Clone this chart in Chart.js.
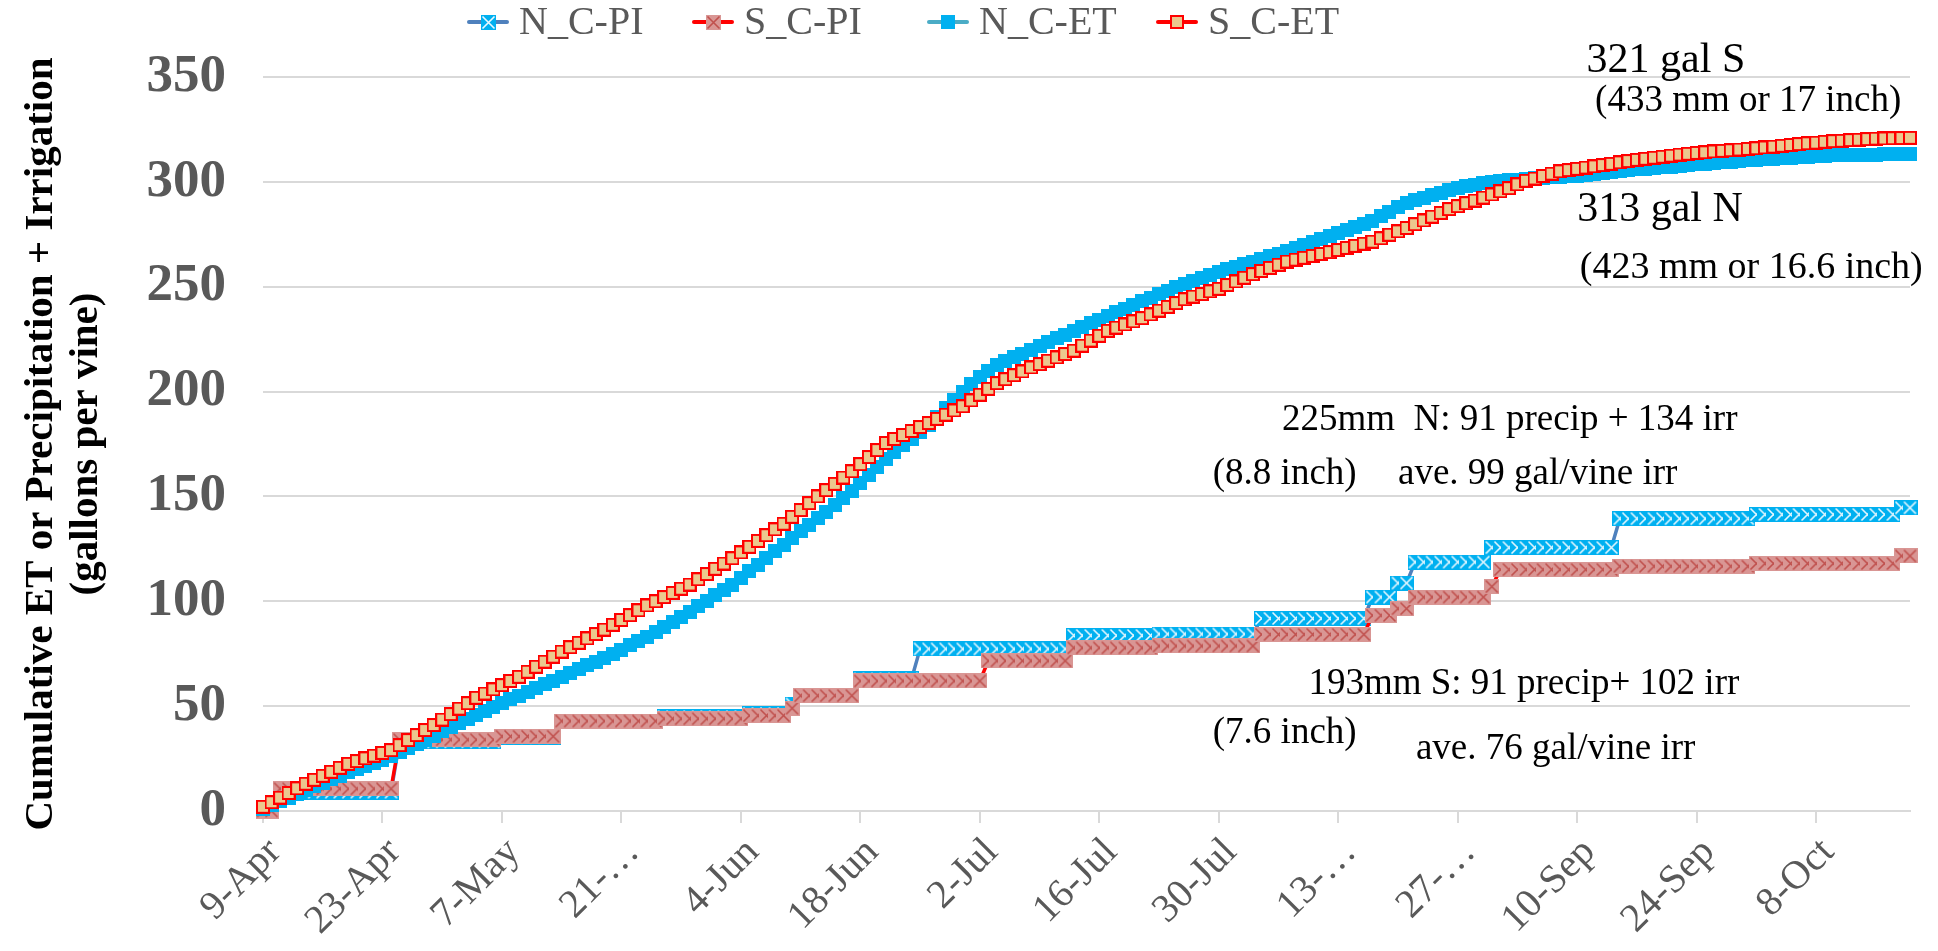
<!DOCTYPE html>
<html>
<head>
<meta charset="utf-8">
<script src="https://cdn.jsdelivr.net/npm/chart.js@4.4.0/dist/chart.umd.min.js"></script>
<style>
  html, body { margin: 0; padding: 0; background: #ffffff; overflow: hidden; }
  #wrap { width: 1938px; height: 951px; }
</style>
</head>
<body>
<div id="wrap"><canvas id="chart" width="1938" height="951"></canvas></div>
<script>
// Series names in legend order
const seriesNames = ['N_C-PI', 'S_C-PI', 'N_C-ET', 'S_C-ET'];

// Daily records start on 9 April; one value per day
const firstDay = { month: 3, day: 9 };
const monthNames = ['Jan','Feb','Mar','Apr','May','Jun','Jul','Aug','Sep','Oct','Nov','Dec'];

// Labels shown on the date axis (every 14th day)
const tickLabels = ['9-Apr', '23-Apr', '7-May', '21-…', '4-Jun', '18-Jun', '2-Jul',
                    '16-Jul', '30-Jul', '13-…', '27-…', '10-Sep', '24-Sep', '8-Oct'];
const tickEvery = 14;

// Cumulative precipitation + irrigation, north block (gal/vine)
const nPI = [
  0, 0, 9, 9, 9, 9, 9, 9, 9, 9, 9, 9, 9, 9, 9, 9,
  33, 33, 33, 33, 33, 33, 33, 33, 33, 33, 33, 33,
  35, 35, 35, 35, 35, 35, 35,
  42.5, 42.5, 42.5, 42.5, 42.5, 42.5, 42.5, 42.5, 42.5, 42.5, 42.5, 42.5,
  45, 45, 45, 45, 45, 45, 45, 45, 45, 45,
  46.5, 46.5, 46.5, 46.5, 46.5,
  51,
  55, 55, 55, 55, 55, 55, 55,
  63, 63, 63, 63, 63, 63, 63,
  77.3, 77.3, 77.3, 77.3, 77.3, 77.3, 77.3, 77.3, 77.3, 77.3, 77.3, 77.3, 77.3, 77.3, 77.3, 77.3, 77.3, 77.3,
  83.7, 83.7, 83.7, 83.7, 83.7, 83.7, 83.7, 83.7, 83.7, 83.7,
  84.4, 84.4, 84.4, 84.4, 84.4, 84.4, 84.4, 84.4, 84.4, 84.4, 84.4, 84.4,
  91.8, 91.8, 91.8, 91.8, 91.8, 91.8, 91.8, 91.8, 91.8, 91.8, 91.8, 91.8, 91.8,
  102, 102, 102,
  108.7, 108.7,
  118.7, 118.7, 118.7, 118.7, 118.7, 118.7, 118.7, 118.7, 118.7,
  125.6, 125.6, 125.6, 125.6, 125.6, 125.6, 125.6, 125.6, 125.6, 125.6, 125.6, 125.6, 125.6, 125.6, 125.6,
  139.4, 139.4, 139.4, 139.4, 139.4, 139.4, 139.4, 139.4, 139.4, 139.4, 139.4, 139.4, 139.4, 139.4, 139.4, 139.4,
  141.4, 141.4, 141.4, 141.4, 141.4, 141.4, 141.4, 141.4, 141.4, 141.4, 141.4, 141.4, 141.4, 141.4, 141.4, 141.4, 141.4,
  144.6, 144.6
];

// Cumulative precipitation + irrigation, south block (gal/vine)
const sPI = [
  0, 0, 10.6, 10.6, 10.6, 10.6, 10.6, 10.6, 10.6, 10.6, 10.6, 10.6, 10.6, 10.6, 10.6, 10.6,
  34, 34, 34, 34, 34, 34, 34, 34, 34, 34, 34, 34,
  35.6, 35.6, 35.6, 35.6, 35.6, 35.6, 35.6,
  42.9, 42.9, 42.9, 42.9, 42.9, 42.9, 42.9, 42.9, 42.9, 42.9, 42.9, 42.9,
  44, 44, 44, 44, 44, 44, 44, 44, 44, 44,
  45.5, 45.5, 45.5, 45.5, 45.5,
  49,
  55, 55, 55, 55, 55, 55, 55,
  62, 62, 62, 62, 62, 62, 62, 62, 62, 62, 62, 62, 62, 62, 62,
  71.6, 71.6, 71.6, 71.6, 71.6, 71.6, 71.6, 71.6, 71.6, 71.6,
  77.8, 77.8, 77.8, 77.8, 77.8, 77.8, 77.8, 77.8, 77.8, 77.8,
  78.7, 78.7, 78.7, 78.7, 78.7, 78.7, 78.7, 78.7, 78.7, 78.7, 78.7, 78.7,
  84.2, 84.2, 84.2, 84.2, 84.2, 84.2, 84.2, 84.2, 84.2, 84.2, 84.2, 84.2, 84.2,
  93.3, 93.3, 93.3,
  96.5, 96.5,
  102, 102, 102, 102, 102, 102, 102, 102, 102,
  107,
  115.1, 115.1, 115.1, 115.1, 115.1, 115.1, 115.1, 115.1, 115.1, 115.1, 115.1, 115.1, 115.1, 115.1,
  116.7, 116.7, 116.7, 116.7, 116.7, 116.7, 116.7, 116.7, 116.7, 116.7, 116.7, 116.7, 116.7, 116.7, 116.7, 116.7,
  118, 118, 118, 118, 118, 118, 118, 118, 118, 118, 118, 118, 118, 118, 118, 118, 118,
  121.6, 121.6
];

// Cumulative evapotranspiration, north block (gal/vine)
const nET = [
  1, 2.8, 4.6, 6.4, 8.2, 10,
  11.7, 13.4, 15.1, 16.8, 18.5,
  20, 21.5, 23, 24.5, 26,
  28, 30, 32, 34, 36,
  38, 40, 42, 44, 46,
  47.8, 49.6, 51.4, 53.2, 55,
  56.8, 58.6, 60.4, 62.2, 64,
  65.8, 67.6, 69.4, 71.2, 73,
  75, 77, 79, 81, 83,
  85.4, 87.8, 90.2, 92.6, 95,
  97.6, 100.2, 102.8, 105.4, 108,
  111.2, 114.3, 117.5, 120.7, 123.8, 127,
  130.1, 133.3, 136.4, 139.5,
  142.8, 146, 149.3, 152.5,
  156.4, 160.3, 164.1, 168,
  171.2, 174.4, 177.6, 180.8, 184,
  188, 192, 196, 200,
  203.5, 207, 210, 212.5,
  214.4, 216.3, 218.1, 220,
  221.8, 223.6, 225.4, 227.2, 229,
  230.8, 232.5, 234.3, 236,
  237.8, 239.5, 241.3, 243,
  244.7, 246.4, 248.1, 249.8, 251.5,
  252.9, 254.3, 255.6, 257,
  258.3, 259.5, 260.8, 262,
  263.3, 264.5, 265.8, 267,
  268.4, 269.8, 271.2, 272.6, 274,
  275.5, 277, 278.5, 280, 281.5,
  283.6, 285.8, 287.9, 290,
  291.2, 292.4, 293.6, 294.8, 296,
  296.9, 297.8, 298.6, 299.5,
  299.9, 300.3, 300.7, 301.1, 301.5,
  301.7, 301.9, 302.1, 302.3,
  302.6, 303, 303.3, 303.7, 304,
  304.5, 305, 305.5, 306,
  306.3, 306.6, 306.9, 307.2, 307.5,
  307.9, 308.3, 308.6, 309,
  309.3, 309.6, 309.9, 310.2, 310.5,
  310.7, 311, 311.2, 311.5, 311.7,
  311.9, 312.1, 312.4, 312.6,
  312.7, 312.8, 312.9, 312.9, 313,
  313.1, 313.2, 313.2, 313.3
];

// Cumulative evapotranspiration, south block (gal/vine)
const sET = [
  2, 4.2, 6.4, 8.6, 10.8, 13,
  14.9, 16.8, 18.7, 20.6, 22.5,
  23.8, 25.1, 26.4, 27.7, 29,
  31.4, 33.8, 36.2, 38.6, 41,
  43.6, 46.2, 48.8, 51.4, 54,
  56, 58, 60, 62, 64,
  66.4, 68.8, 71.2, 73.6, 76,
  78.1, 80.2, 82.3, 84.4, 86.5,
  88.8, 91.1, 93.4, 95.7, 98,
  100, 102, 104, 106, 108,
  110.5, 113, 115.5, 118, 120.5,
  123.3, 126, 128.8, 131.5, 134.3, 137,
  140.3, 143.5, 146.8, 150,
  153, 156, 159, 162,
  165.4, 168.8, 172.1, 175.5,
  177.4, 179.3, 181.2, 183.1, 185,
  187, 189, 191, 193,
  195.8, 198.5, 201.3, 204,
  205.9, 207.8, 209.6, 211.5,
  213.1, 214.7, 216.3, 217.9, 219.5,
  221.9, 224.3, 226.6, 229,
  230.5, 232, 233.5, 235,
  236.8, 238.6, 240.4, 242.2, 244,
  245.3, 246.5, 247.8, 249,
  250.8, 252.5, 254.3, 256,
  257.5, 259, 260.5, 262,
  262.9, 263.8, 264.7, 265.6, 266.5,
  267.5, 268.5, 269.5, 270.5, 271.5,
  273.1, 274.8, 276.4, 278,
  279.8, 281.6, 283.4, 285.2, 287,
  288.4, 289.8, 291.1, 292.5,
  294, 295.5, 297,
  298.8, 300.5,
  301.6, 302.8, 303.9, 305,
  305.6, 306.2, 306.8, 307.4, 308,
  308.6, 309.3, 309.9, 310.5,
  311, 311.5, 312, 312.5, 313,
  313.4, 313.8, 314.1, 314.5,
  314.8, 315.1, 315.4, 315.7, 316,
  316.4, 316.8, 317.2, 317.6, 318,
  318.4, 318.7, 319.1, 319.4,
  319.6, 319.9, 320.1, 320.4, 320.6,
  320.7, 320.8, 320.9, 321
];

// Text notes placed in data units: [day index, gallons]
const notes = [
  { text: '321 gal S',                     day: 155.1, gal: 357.6, size: 42 },
  { text: '(433 mm or 17 inch)',           day: 156.1, gal: 338.6, size: 37 },
  { text: '313 gal N',                     day: 154.0, gal: 286.6, size: 42 },
  { text: '(423 mm or 16.6 inch)',         day: 154.3, gal: 258.9, size: 38 },
  { text: '225mm  N: 91 precip + 134 irr', day: 119.4, gal: 186.5, size: 37 },
  { text: '(8.8 inch)',                    day: 111.3, gal: 160.7, size: 37 },
  { text: 'ave. 99 gal/vine irr',          day: 133.0, gal: 160.7, size: 37 },
  { text: '193mm S: 91 precip+ 102 irr',   day: 122.5, gal: 60.6,  size: 37 },
  { text: '(7.6 inch)',                    day: 111.3, gal: 37.2,  size: 37 },
  { text: 'ave. 76 gal/vine irr',          day: 135.1, gal: 29.6,  size: 37 }
];

// ---- category labels: one per day ----
const days = [];
{
  const d = new Date(Date.UTC(2019, firstDay.month, firstDay.day));
  for (let i = 0; i < nET.length; i++) {
    days.push(d.getUTCDate() + '-' + monthNames[d.getUTCMonth()]);
    d.setUTCDate(d.getUTCDate() + 1);
  }
}

const SERIF = '"Liberation Serif", "Times New Roman", Times, serif';

// ---- marker images ----
function squareMarker(size, fill, stroke, lw) {
  const c = document.createElement('canvas');
  c.width = size; c.height = size;
  const g = c.getContext('2d');
  g.fillStyle = fill;
  g.fillRect(0, 0, size, size);
  if (stroke) {
    g.strokeStyle = stroke;
    g.lineWidth = lw;
    g.strokeRect(lw / 2, lw / 2, size - lw, size - lw);
  }
  return c;
}
function crossMarker(size, fill, cross) {
  const c = document.createElement('canvas');
  c.width = size; c.height = size;
  const g = c.getContext('2d');
  g.fillStyle = fill;
  g.fillRect(0, 0, size, size);
  g.strokeStyle = cross;
  g.lineWidth = 1.6;
  g.beginPath();
  g.moveTo(1.5, 1.5); g.lineTo(size - 1.5, size - 1.5);
  g.moveTo(size - 1.5, 1.5); g.lineTo(1.5, size - 1.5);
  g.stroke();
  return c;
}

const markerNPI = crossMarker(15, '#00B0F0', '#E8F8FF');
const markerSPI = crossMarker(15, '#D99694', '#C0504D');
const markerNET = squareMarker(14, '#00B0F0');
const markerSET = squareMarker(14, '#EBC88E', '#FF0000', 2);

const lineColors = ['#4F81BD', '#FF0000', '#4BACC6', '#FF0000'];
const markers = [markerNPI, markerSPI, markerNET, markerSET];
const values = [nPI, sPI, nET, sET];

// Later series are painted over earlier ones
const datasets = values.map((v, i) => ({
  label: seriesNames[i],
  data: v,
  borderColor: lineColors[i],
  backgroundColor: lineColors[i],
  borderWidth: 3.5,
  pointStyle: markers[i],
  pointRadius: 6,
  pointHoverRadius: 6,
  tension: 0,
  clip: false,
  order: values.length - i
}));

// ---- legend across the top: left edge of each entry's key ----
const legendKeyX = [467, 692, 927, 1156];
const legendTop = {
  id: 'legendTop',
  afterDraw(chart) {
    const ctx = chart.ctx;
    ctx.save();
    ctx.font = '40px ' + SERIF;
    ctx.textBaseline = 'middle';
    ctx.textAlign = 'left';
    const y = 22;
    seriesNames.forEach((name, i) => {
      const x = legendKeyX[i];
      ctx.strokeStyle = lineColors[i];
      ctx.lineWidth = 4;
      ctx.lineCap = 'round';
      ctx.beginPath();
      ctx.moveTo(x + 2, y);
      ctx.lineTo(x + 40, y);
      ctx.stroke();
      const m = markers[i];
      ctx.drawImage(m, Math.round(x + 21 - m.width / 2), Math.round(y - m.height / 2));
      ctx.fillStyle = '#595959';
      ctx.fillText(name, x + 52, y + 1);
    });
    ctx.restore();
  }
};

// ---- text notes on the plot ----
const plotNotes = {
  id: 'plotNotes',
  afterDraw(chart) {
    const ctx = chart.ctx;
    const xs = chart.scales.x, ys = chart.scales.y;
    ctx.save();
    ctx.fillStyle = '#000000';
    ctx.textAlign = 'left';
    ctx.textBaseline = 'middle';
    notes.forEach(n => {
      ctx.font = n.size + 'px ' + SERIF;
      ctx.fillText(n.text, xs.getPixelForValue(n.day), ys.getPixelForValue(n.gal));
    });
    ctx.restore();
  }
};

function drawChart() {
  new Chart(document.getElementById('chart'), {
    type: 'line',
    data: { labels: days, datasets },
    plugins: [legendTop, plotNotes],
    options: {
      responsive: false,
      animation: false,
      devicePixelRatio: 1,
      layout: { padding: { left: 14, right: 28, top: 77, bottom: 0 } },
      plugins: {
        legend: { display: false },
        tooltip: { enabled: false }
      },
      scales: {
        x: {
          type: 'category',
          offset: false,
          afterFit(axis) { axis.height = 140; },
          grid: { display: true, drawOnChartArea: false, drawTicks: true, tickLength: 12, color: '#D9D9D9', lineWidth: 2 },
          border: { display: true, color: '#D9D9D9', width: 2 },
          ticks: {
            autoSkip: false,
            minRotation: 45,
            maxRotation: 45,
            padding: 6,
            labelOffset: 12,
            color: '#595959',
            font: { family: SERIF, size: 40 },
            callback: (v, i) => (i % tickEvery === 0 ? tickLabels[i / tickEvery] : null)
          }
        },
        y: {
          min: 0,
          max: 350,
          afterFit(axis) { axis.width = 249; },
          grid: { color: '#D9D9D9', lineWidth: 2, drawTicks: false },
          border: { display: false },
          ticks: {
            stepSize: 50,
            padding: 37,
            color: '#595959',
            font: { family: SERIF, size: 53, weight: 'bold' }
          },
          title: {
            display: true,
            text: ['Cumulative ET or Precipitation + Irrigation', '(gallons per vine)'],
            color: '#000000',
            padding: { top: 4, bottom: 0 },
            font: { family: SERIF, size: 41, weight: 'bold', lineHeight: 1.12 }
          }
        }
      }
    }
  });
}

// Make sure the serif faces are ready before painting text on the canvas
const faceLoads = document.fonts && document.fonts.load
  ? Promise.all([
      document.fonts.load('40px "Liberation Serif"'),
      document.fonts.load('bold 40px "Liberation Serif"')
    ]).catch(() => null)
  : Promise.resolve();
faceLoads.then(drawChart, drawChart);
</script>
</body>
</html>
